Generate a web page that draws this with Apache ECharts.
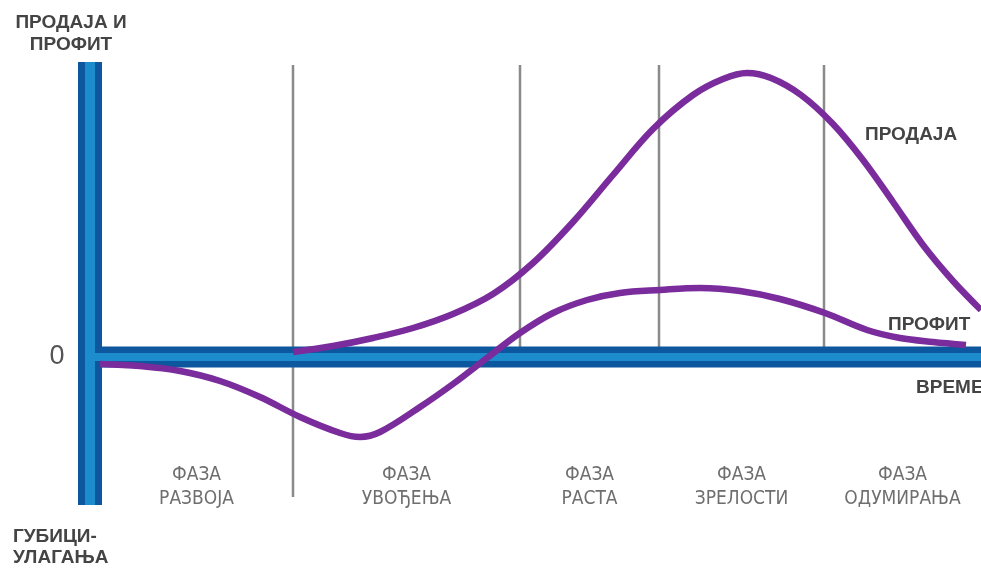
<!DOCTYPE html>
<html>
<head>
<meta charset="utf-8">
<style>
  html, body { margin: 0; padding: 0; background: #fff; }
  #chart { width: 981px; height: 569px; }
</style>
<script src="https://cdn.jsdelivr.net/npm/echarts@6/dist/echarts.min.js"></script>
</head>
<body>
<div id="chart"></div>
<script>
// phase boundaries along the time axis
var phaseBounds = [0, 193, 420, 559, 724, 881];
var phaseNames = ['ФАЗА\nРАЗВОЈА', 'ФАЗА\nУВОЂЕЊА', 'ФАЗА\nРАСТА', 'ФАЗА\nЗРЕЛОСТИ', 'ФАЗА\nОДУМИРАЊА'];

// sales curve (time, value)
var salesX = [193, 233, 273, 313, 353, 393, 433, 473, 513, 553, 593, 623, 647, 671, 701, 733, 763, 793, 823, 853, 881];
var salesY = [5, 11, 19, 29, 43, 63, 94, 135, 182, 228, 262, 278, 284, 279, 262, 233, 197, 155, 112, 76, 47];

// profit curve (time, value)
var profitX = [0, 40, 80, 120, 160, 200, 240, 260, 280, 320, 353, 387, 420, 453, 487, 520, 560, 600, 640, 680, 725, 767, 800, 833, 866];
var profitY = [-7, -9, -14, -24, -40, -60, -76, -80, -75, -50, -27, -1, 24, 44, 57, 64, 67, 69, 66, 58, 44, 27, 19, 15, 12];

var purple = '#7a2b9c';
var darkBlue = '#0c579e';
var lightBlue = '#1c8ccd';

function pairs(xs, ys) {
    return xs.map(function (x, i) { return [x, ys[i]]; });
}

var dom = document.getElementById('chart');
var myChart = echarts.init(dom);

var series = [];

// vertical divider lines between phases
for (var i = 1; i < phaseBounds.length - 1; i++) {
    series.push({
        type: 'line',
        data: [[phaseBounds[i], 292], [phaseBounds[i], i === 1 ? -140 : 0]],
        symbol: 'none',
        lineStyle: { color: '#8a8a8a', width: 2.5 },
        z: 1
    });
}

// thick axis bars (outer dark + inner light stripe)
[[24, 21, darkBlue], [10, 8, lightBlue]].forEach(function (s) {
    series.push({
        type: 'line',
        data: [[-10, 295], [-10, -148]],
        symbol: 'none',
        lineStyle: { color: s[2], width: s[0] },
        z: 2
    });
    series.push({
        type: 'line',
        data: [[-10, 0], [881, 0]],
        symbol: 'none',
        lineStyle: { color: s[2], width: s[1] },
        z: 2
    });
});

series.push({
    name: 'ПРОДАЈА',
    type: 'line',
    smooth: 0.35,
    symbol: 'none',
    data: pairs(salesX, salesY),
    lineStyle: { color: purple, width: 6.5 },
    z: 3
});
series.push({
    name: 'ПРОФИТ',
    type: 'line',
    smooth: 0.35,
    symbol: 'none',
    data: pairs(profitX, profitY),
    lineStyle: { color: purple, width: 6.5 },
    z: 3
});

// phase labels centred in each phase
series.push({
    type: 'scatter',
    symbolSize: 0,
    data: phaseNames.map(function (n, i) {
        return { name: n, value: [(phaseBounds[i] + phaseBounds[i + 1]) / 2, -130] };
    }),
    label: {
        show: true,
        position: 'inside',
        formatter: '{b}',
        color: '#4a4a4a',
        fontSize: 19,
        lineHeight: 24,
        fontFamily: "'Liberation Sans Narrow', 'DejaVu Sans Condensed', sans-serif"
    },
    z: 4
});

var bold = { fontSize: 19, fontWeight: 'bold', fill: '#444', fontFamily: "'Liberation Sans', Arial, sans-serif" };
function txt(x, y, text, align, extra) {
    var st = Object.assign({ text: text, textAlign: align || 'left', textVerticalAlign: 'middle' }, bold, extra || {});
    return { type: 'text', x: x, y: y, style: st, z: 10 };
}

option = {
    animation: false,
    grid: { left: 80, right: 0, top: 57, bottom: 62 },
    xAxis: { type: 'value', min: -20, max: 881, show: false },
    yAxis: { type: 'value', min: -150, max: 300, show: false },
    graphic: [
        txt(71, 23, 'ПРОДАЈА И', 'center'),
        txt(71, 45, 'ПРОФИТ', 'center'),
        txt(57, 357, '0', 'center', { fontSize: 27, fontWeight: 'normal', fill: '#555' }),
        txt(13, 537, 'ГУБИЦИ-', 'left'),
        txt(13, 558, 'УЛАГАЊА', 'left'),
        txt(865, 135, 'ПРОДАЈА', 'left'),
        txt(888, 325, 'ПРОФИТ', 'left'),
        txt(916, 388, 'ВРЕМЕ', 'left')
    ],
    series: series
};

if (option && typeof option === 'object') {
    myChart.setOption(option, true);
}
window.onresize = myChart.resize;
</script>
</body>
</html>
